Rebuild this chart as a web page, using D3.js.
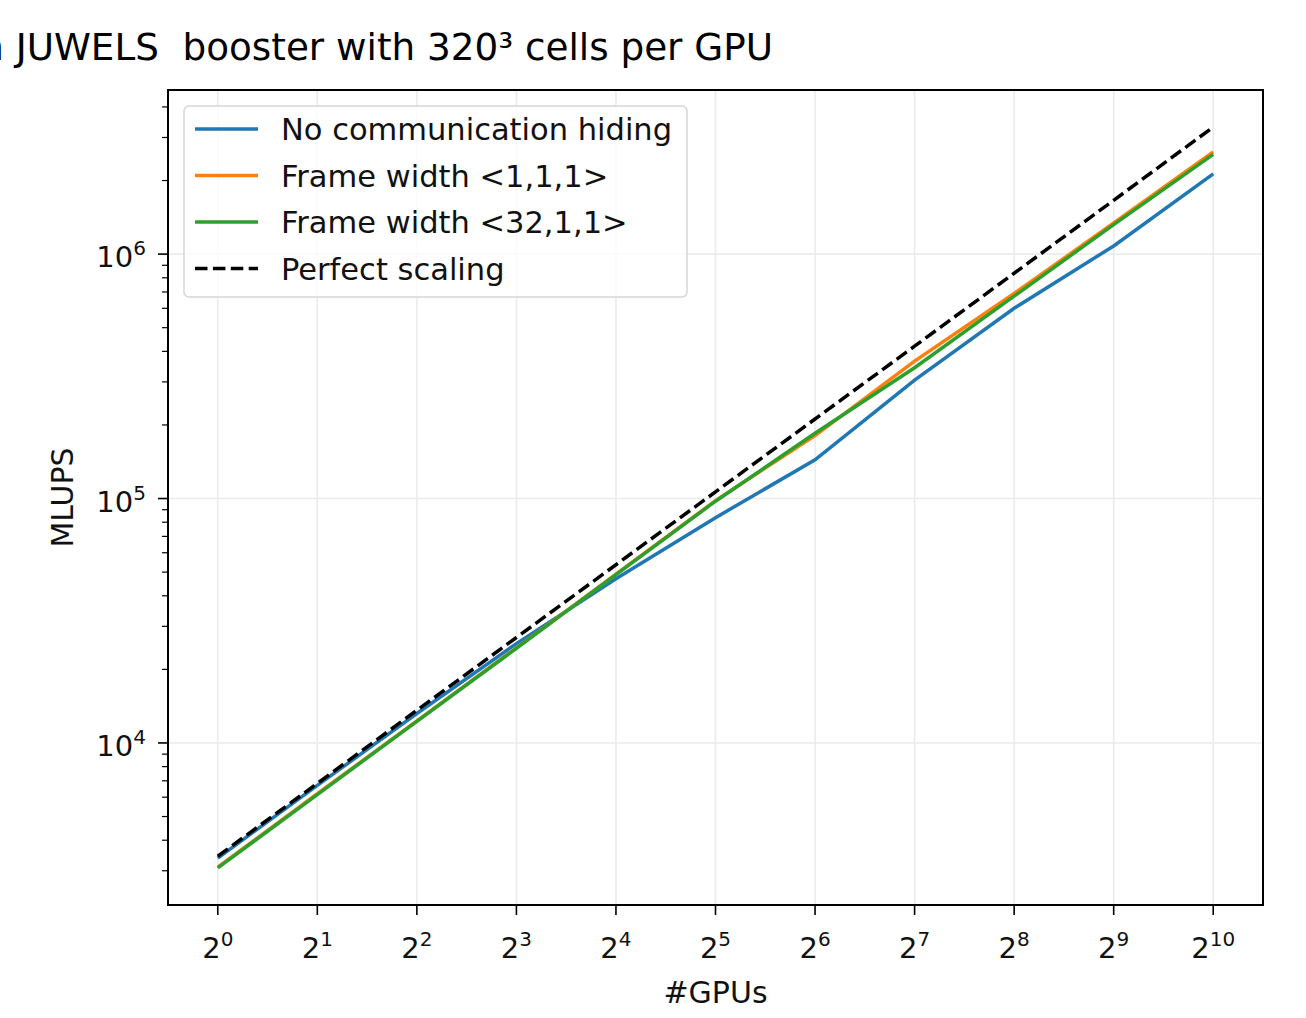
<!DOCTYPE html>
<html>
<head>
<meta charset="utf-8">
<script src="https://cdn.jsdelivr.net/npm/d3@7"></script>
<style>
  body { margin: 0; background: #fff; }
  svg { display: block; font-family: "DejaVu Sans", sans-serif; }
</style>
</head>
<body>
<div id="chart"></div>
<script>
// x values: number of GPUs (2^0 .. 2^10)
const gpus = [1, 2, 4, 8, 16, 32, 64, 128, 256, 512, 1024];

// MLUPS
const noHiding   = [3380, 6700, 13200, 25500, 47000, 83500, 144000, 305000, 600000, 1080000, 2130000];
const frame111   = [3100, 6200, 12300, 24500, 49000, 98000, 181000, 365000, 690000, 1340000, 2620000];
const frame3211  = [3080, 6150, 12250, 24400, 48800, 97500, 185000, 343000, 673000, 1320000, 2560000];
const perfect    = [3440, 6830, 13600, 27000, 53600, 106500, 211500, 420000, 835000, 1660000, 3310000];

const seriesNames = ["No communication hiding", "Frame width <1,1,1>", "Frame width <32,1,1>", "Perfect scaling"];
const seriesColors = ["#1f77b4", "#ff7f0e", "#2ca02c", "#000000"];

const xTickExps = [0, 1, 2, 3, 4, 5, 6, 7, 8, 9, 10];
const yTickExps = [4, 5, 6];

const titleText = "n JUWELS  booster with 320³ cells per GPU";

const W = 1306, H = 1018;
const margin = { left: 168, top: 90, right: 1306 - 1263, bottom: 1018 - 905 };
const iw = W - margin.left - margin.right;
const ih = H - margin.top - margin.bottom;

const svg = d3.select("#chart").append("svg")
    .attr("width", W)
    .attr("height", H);

// log scales with matplotlib-like 5% margins (in log space)
const lx = [Math.log2(gpus[0]), Math.log2(gpus[gpus.length - 1])];
const xPad = (lx[1] - lx[0]) * 0.05;
const x = d3.scaleLog().base(2)
    .domain([2 ** (lx[0] - xPad), 2 ** (lx[1] + xPad)])
    .range([margin.left, margin.left + iw]);

const allY = [].concat(noHiding, frame111, frame3211, perfect);
const ly = [Math.log10(d3.min(allY)), Math.log10(d3.max(allY))];
const yPad = (ly[1] - ly[0]) * 0.05;
const y = d3.scaleLog()
    .domain([10 ** (ly[0] - yPad), 10 ** (ly[1] + yPad)])
    .range([margin.top + ih, margin.top]);

// grid
const grid = svg.append("g").attr("stroke", "#ebebeb").attr("stroke-width", 1.6);
xTickExps.forEach(e => {
    grid.append("line")
        .attr("x1", x(2 ** e)).attr("x2", x(2 ** e))
        .attr("y1", margin.top).attr("y2", margin.top + ih);
});
yTickExps.forEach(e => {
    grid.append("line")
        .attr("x1", margin.left).attr("x2", margin.left + iw)
        .attr("y1", y(10 ** e)).attr("y2", y(10 ** e));
});

// lines
const line = d3.line()
    .x((d, i) => x(gpus[i]))
    .y(d => y(d));

const plotData = [noHiding, frame111, frame3211, perfect];
plotData.forEach((vals, i) => {
    svg.append("path")
        .datum(vals)
        .attr("d", line)
        .attr("fill", "none")
        .attr("stroke", seriesColors[i])
        .attr("stroke-width", 3.5)
        .attr("stroke-dasharray", i === 3 ? "12.5,5.4" : null);
});

// frame
svg.append("rect")
    .attr("x", margin.left).attr("y", margin.top)
    .attr("width", iw).attr("height", ih)
    .attr("fill", "none")
    .attr("stroke", "#000")
    .attr("stroke-width", 2);

// x ticks
const xt = svg.append("g");
xTickExps.forEach(e => {
    const px = x(2 ** e);
    xt.append("line")
        .attr("x1", px).attr("x2", px)
        .attr("y1", margin.top + ih).attr("y2", margin.top + ih + 10)
        .attr("stroke", "#000").attr("stroke-width", 1.6);
    const t = xt.append("text")
        .attr("x", px).attr("y", margin.top + ih + 53)
        .attr("text-anchor", "middle")
        .attr("font-size", 29)
        .attr("fill", "#111");
    t.append("tspan").text("2");
    t.append("tspan").text(e).attr("font-size", 20).attr("dy", -12);
});

// y ticks (major + minor)
const yt = svg.append("g");
const [y0, y1] = y.domain();
for (let p = Math.floor(Math.log10(y0)); p <= Math.ceil(Math.log10(y1)); p++) {
    for (let m = 1; m <= 9; m++) {
        const v = m * 10 ** p;
        if (v < y0 || v > y1) continue;
        const py = y(v);
        yt.append("line")
            .attr("x1", margin.left - (m === 1 ? 10 : 6)).attr("x2", margin.left)
            .attr("y1", py).attr("y2", py)
            .attr("stroke", "#000").attr("stroke-width", m === 1 ? 1.6 : 1.2);
    }
}
yTickExps.forEach(e => {
    const t = yt.append("text")
        .attr("x", margin.left - 22).attr("y", y(10 ** e) + 13)
        .attr("text-anchor", "end")
        .attr("font-size", 29)
        .attr("fill", "#111");
    t.append("tspan").text("10");
    t.append("tspan").text(e).attr("font-size", 20).attr("dy", -12);
});

// axis labels
svg.append("text")
    .attr("x", margin.left + iw / 2).attr("y", 1003)
    .attr("text-anchor", "middle")
    .attr("font-size", 30).attr("fill", "#111")
    .text("#GPUs");

svg.append("text")
    .attr("transform", `translate(73,${margin.top + ih / 2}) rotate(-90)`)
    .attr("text-anchor", "middle")
    .attr("font-size", 30).attr("fill", "#111")
    .text("MLUPS");

// title (cut off at the left edge like the original)
svg.append("text")
    .attr("x", 773).attr("y", 60)
    .attr("text-anchor", "end")
    .attr("font-size", 37.3).attr("fill", "#000")
    .style("white-space", "pre")
    .text(titleText);

// legend
const lg = svg.append("g");
lg.append("rect")
    .attr("x", 184).attr("y", 106)
    .attr("width", 503).attr("height", 191)
    .attr("rx", 5)
    .attr("fill", "#fff").attr("fill-opacity", 0.8)
    .attr("stroke", "#d6d6d6").attr("stroke-width", 1.5);

seriesNames.forEach((name, i) => {
    const cy = 129 + i * 46.5;
    lg.append("line")
        .attr("x1", 195).attr("x2", 258)
        .attr("y1", cy).attr("y2", cy)
        .attr("stroke", seriesColors[i])
        .attr("stroke-width", 3.5)
        .attr("stroke-dasharray", i === 3 ? "12.5,5.4" : null);
    lg.append("text")
        .attr("x", 281).attr("y", cy + 11)
        .attr("font-size", 30.5).attr("fill", "#111")
        .text(name);
});
</script>
</body>
</html>
